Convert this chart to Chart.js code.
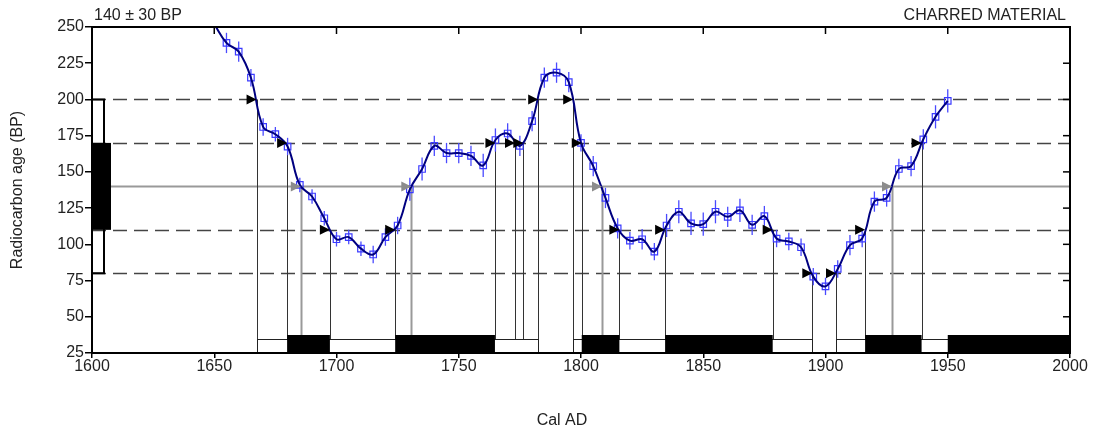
<!DOCTYPE html>
<html><head><meta charset="utf-8">
<script src="https://cdn.jsdelivr.net/npm/chart.js@4.4.1/dist/chart.umd.min.js"></script>
<style>html,body{margin:0;padding:0;background:#fff;}canvas{display:block;}</style>
</head><body>
<canvas id="c" width="1098" height="432"></canvas>
<script>
// ---- data ----
const calYears = [1650,1655,1660,1665,1670,1675,1680,1685,1690,1695,1700,1705,1710,1715,1720,1725,1730,1735,1740,1745,1750,1755,1760,1765,1770,1775,1780,1785,1790,1795,1800,1805,1810,1815,1820,1825,1830,1835,1840,1845,1850,1855,1860,1865,1870,1875,1880,1885,1890,1895,1900,1905,1910,1915,1920,1925,1930,1935,1940,1945,1950];
const curveBP = [252,239,233,215,181,176,167.5,141,133,118,103.5,105,97,93,105,113,138,152,168,163,163,161,154.5,172,176.5,168,185,215,218.5,212,170,154,132,111,102.5,103.5,95,113,122.5,114.5,114,122.5,119,123.5,113.5,119.5,104,102,98,77.7,71,83,99.5,104,129.5,132,152,154,172.5,188,199];
const curveErr = [7,7,7,6,6,5,6,5,5,5,5,5,5,6,6,6,8,8,7,7,7,7,8,8,7,7,7,7,7,7,6,7,7,7,6,7,6,8,8,8,8,8,7,8,7,7,6,6,6,6,6,6,7,6,7,6,7,7,7,8,8];
const sampleLabel = "140 ± 30 BP";
const materialLabel = "CHARRED MATERIAL";
const xTitle = "Cal AD";
const yTitle = "Radiocarbon age (BP)";
const sampleMean = 140;
const oneSigmaLevels = [170, 110];
const twoSigmaLevels = [200, 80];
const crossYears  = [1667.3,1679.8,1685.4,1697.3,1724.0,1730.6,1765.0,1773.0,1776.4,1782.5,1796.8,1800.3,1808.6,1815.7,1834.4,1878.4,1894.6,1904.3,1916.2,1927.2,1939.3];
const crossLevels = [200,170,140,110,110,140,170,170,170,200,200,170,140,110,110,110,80,80,110,140,170];
const twoSigmaStart = [1667.3,1796.8,1904.3];
const twoSigmaEnd   = [1782.5,1894.6,2000];
const oneSigmaStart = [1679.8,1724.0,1800.3,1834.4,1916.2,1950];
const oneSigmaEnd   = [1697.3,1764.8,1815.7,1878.4,1939.3,2000];
const xTickLabels = ["1600","1650","1700","1750","1800","1850","1900","1950","2000"];
const yTickLabels = ["25","50","75","100","125","150","175","200","225","250"];
const xMin = 1600, xMax = 2000, yMin = 25, yMax = 250;

const FONT = "'Liberation Sans', Arial, sans-serif";
const curvePts = calYears.map((x,i)=>({x, y: curveBP[i]}));
const markerPts = calYears.map((x,i)=>({x, y: curveBP[i], e: curveErr[i]})).filter(p => p.y <= yMax);

const overlay = {
  id: 'overlay',
  beforeDatasetsDraw(chart) {
    const {ctx, chartArea: a, scales: {x, y}} = chart;
    ctx.save();
    ctx.beginPath(); ctx.rect(a.left, a.top, a.right - a.left, a.bottom - a.top); ctx.clip();
    // dashed range lines
    ctx.strokeStyle = '#444'; ctx.lineWidth = 1.5; ctx.setLineDash([14, 7]);
    oneSigmaLevels.concat(twoSigmaLevels).forEach(v => {
      const py = Math.round(y.getPixelForValue(v)) + 0.5;
      ctx.beginPath(); ctx.moveTo(a.left, py); ctx.lineTo(a.right, py); ctx.stroke();
    });
    ctx.setLineDash([]);
    // mean line
    ctx.strokeStyle = '#999'; ctx.lineWidth = 2;
    const pm = y.getPixelForValue(sampleMean);
    ctx.beginPath(); ctx.moveTo(a.left, pm); ctx.lineTo(a.right, pm); ctx.stroke();
    // vertical drop lines
    crossYears.forEach((yr, i) => {
      const lv = crossLevels[i];
      const px = Math.round(x.getPixelForValue(yr)) + 0.5;
      const isMean = lv === sampleMean;
      ctx.strokeStyle = isMean ? '#999' : '#333';
      ctx.lineWidth = isMean ? 2 : 1;
      ctx.beginPath(); ctx.moveTo(px, y.getPixelForValue(lv)); ctx.lineTo(px, a.bottom); ctx.stroke();
    });
    // 2-sigma boxes
    ctx.lineWidth = 1; ctx.strokeStyle = '#222'; ctx.fillStyle = '#fff';
    twoSigmaStart.forEach((s, i) => {
      const x0 = Math.round(x.getPixelForValue(s)) + 0.5, x1 = Math.round(x.getPixelForValue(twoSigmaEnd[i])) + 0.5;
      const top = a.bottom - 13.5;
      ctx.fillRect(x0, top, x1 - x0, a.bottom - top);
      ctx.strokeRect(x0, top, x1 - x0, a.bottom - top + 2);
    });
    // 1-sigma boxes
    ctx.fillStyle = '#000';
    oneSigmaStart.forEach((s, i) => {
      const x0 = x.getPixelForValue(s), x1 = x.getPixelForValue(oneSigmaEnd[i]);
      const top = a.bottom - 18;
      ctx.fillRect(x0, top, x1 - x0, a.bottom - top);
    });
    // error bars
    ctx.strokeStyle = '#4a4aff'; ctx.lineWidth = 1.3;
    markerPts.forEach(p => {
      const px = x.getPixelForValue(p.x);
      ctx.beginPath(); ctx.moveTo(px, y.getPixelForValue(p.y + p.e)); ctx.lineTo(px, y.getPixelForValue(p.y - p.e)); ctx.stroke();
    });
    ctx.restore();
    // left bracket: 2-sigma outline and 1-sigma block
    ctx.save();
    const y200 = y.getPixelForValue(twoSigmaLevels[0]), y80 = y.getPixelForValue(twoSigmaLevels[1]);
    ctx.strokeStyle = '#000'; ctx.lineWidth = 2;
    ctx.beginPath(); ctx.moveTo(a.left, y200); ctx.lineTo(a.left + 12, y200); ctx.lineTo(a.left + 12, y80); ctx.lineTo(a.left, y80); ctx.stroke();
    const y170 = y.getPixelForValue(oneSigmaLevels[0]), y110 = y.getPixelForValue(oneSigmaLevels[1]);
    ctx.fillStyle = '#000';
    ctx.fillRect(a.left, y170, 19, y110 - y170);
    ctx.restore();
  },
  afterDatasetsDraw(chart) {
    const {ctx, scales: {x, y}} = chart;
    ctx.save();
    crossYears.forEach((yr, i) => {
      const lv = crossLevels[i];
      const px = x.getPixelForValue(yr), py = y.getPixelForValue(lv);
      ctx.fillStyle = lv === sampleMean ? '#8c8c8c' : '#000';
      ctx.beginPath(); ctx.moveTo(px, py); ctx.lineTo(px - 10, py - 5); ctx.lineTo(px - 10, py + 5); ctx.closePath(); ctx.fill();
    });
    ctx.restore();
  },
  afterDraw(chart) {
    const {ctx, chartArea: a, scales: {x, y}} = chart;
    ctx.save();
    ctx.strokeStyle = '#000'; ctx.lineWidth = 2;
    ctx.strokeRect(a.left, a.top, a.right - a.left, a.bottom - a.top);
    ctx.lineWidth = 1.5;
    x.ticks.forEach(t => {
      const px = x.getPixelForValue(t.value);
      ctx.beginPath(); ctx.moveTo(px, a.top); ctx.lineTo(px, a.top + 7); ctx.stroke();
    });
    y.ticks.forEach(t => {
      const py = y.getPixelForValue(t.value);
      ctx.beginPath(); ctx.moveTo(a.right, py); ctx.lineTo(a.right - 7, py); ctx.stroke();
    });
    ctx.fillStyle = '#222'; ctx.font = '16px ' + FONT; ctx.textBaseline = 'middle';
    ctx.textAlign = 'left'; ctx.fillText(sampleLabel, a.left + 2, 16);
    ctx.textAlign = 'right'; ctx.fillText(materialLabel, a.right - 4, 16);
    ctx.textAlign = 'center'; ctx.fillText(xTitle, 562, 421);
    ctx.restore();
  }
};

new Chart(document.getElementById('c'), {
  type: 'line',
  data: {
    datasets: [
      { label: 'curve', data: curvePts, borderColor: '#000080', borderWidth: 2, pointRadius: 0, tension: 0.4, fill: false, order: 0 },
      { label: 'points', data: markerPts, showLine: false, pointStyle: 'rect', pointRadius: 4.6, pointBorderColor: '#3a3aff', pointBackgroundColor: 'rgba(0,0,0,0)', pointBorderWidth: 1.2, order: 1 }
    ]
  },
  options: {
    responsive: false, animation: false, devicePixelRatio: 1,
    layout: { padding: { top: 27, right: 28, left: 0, bottom: 0 } },
    plugins: { legend: { display: false }, tooltip: { enabled: false } },
    scales: {
      x: {
        type: 'linear', min: xMin, max: xMax,
        afterFit: s => { s.height = 79; },
        ticks: { stepSize: 50, color: '#222', font: { family: FONT, size: 16 }, padding: -1, maxRotation: 0,
                 callback: (v, i) => xTickLabels[i] },
        grid: { display: true, drawOnChartArea: false, drawTicks: true, tickLength: 5, color: '#000', lineWidth: 1.5 },
        border: { display: true, color: '#000', width: 2 },
        title: { display: false, text: xTitle }
      },
      y: {
        type: 'linear', min: yMin, max: yMax,
        afterFit: s => { s.width = 92; },
        ticks: { stepSize: 25, color: '#222', font: { family: FONT, size: 16 }, padding: 1,
                 callback: (v, i) => yTickLabels[i] },
        grid: { display: true, drawOnChartArea: false, drawTicks: true, tickLength: 7, color: '#000', lineWidth: 1.5 },
        border: { display: true, color: '#000', width: 2 },
        title: { display: true, text: yTitle, color: '#222', font: { family: FONT, size: 16, lineHeight: 1.2 }, padding: { top: 8, bottom: 0 } }
      }
    }
  },
  plugins: [overlay]
});
</script>
</body></html>
